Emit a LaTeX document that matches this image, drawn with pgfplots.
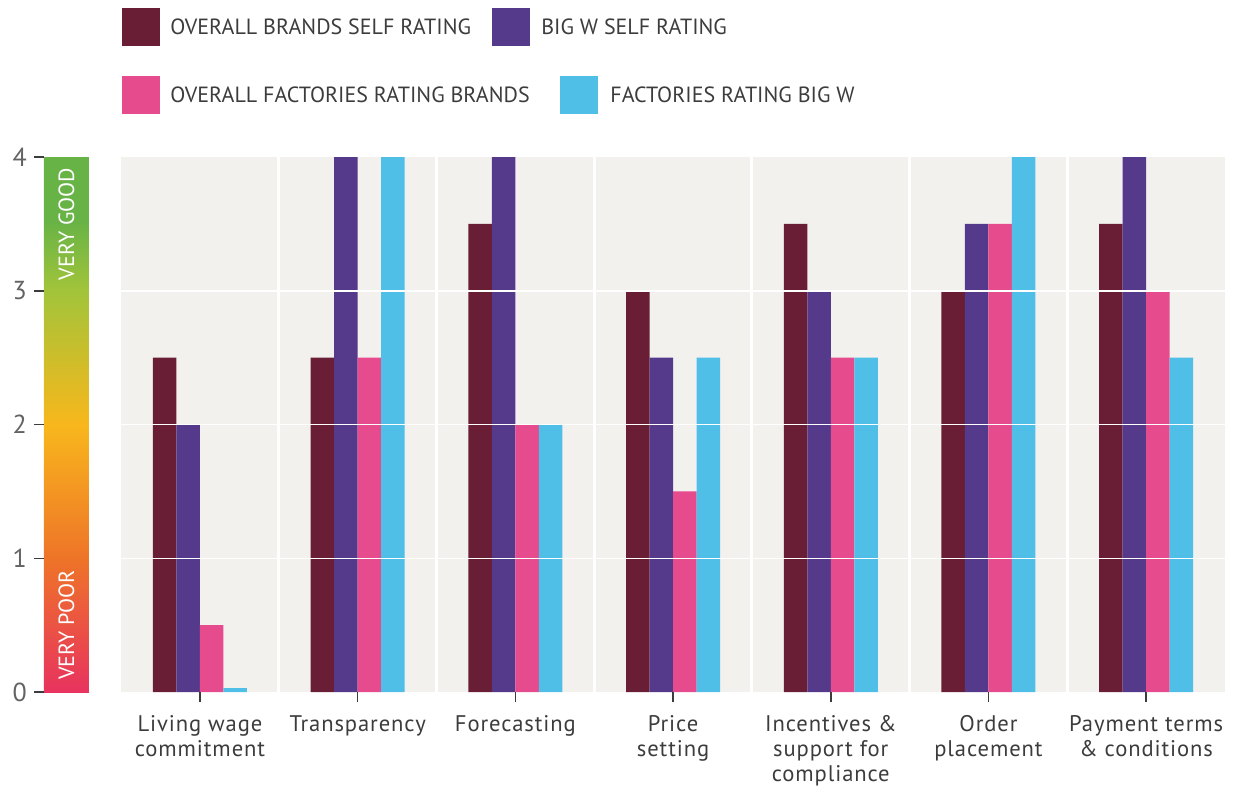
\documentclass[border=0pt]{standalone}
\usepackage{pgfplots}
\usepackage{pgfplotstable}
\pgfplotsset{compat=1.18}
\usepackage{fontspec}
\setmainfont{PT Sans}
\newfontfamily\ticklab[LetterSpace=4]{PT Sans}

\definecolor{cMaroon}{HTML}{6A1E36}
\definecolor{cPurple}{HTML}{553A8C}
\definecolor{cPink}{HTML}{E64B8E}
\definecolor{cCyan}{HTML}{4FBFE8}
\definecolor{panel}{HTML}{F2F1EE}
\definecolor{txt}{HTML}{3C3C3C}
\definecolor{g0}{HTML}{E8335F}
\definecolor{g1}{HTML}{EE7428}
\definecolor{g2}{HTML}{F8B71C}
\definecolor{g3}{HTML}{A2C43A}
\definecolor{g4}{HTML}{68B346}

\pgfdeclareverticalshading{ratingbar}{100bp}{color(0bp)=(g0); color(25bp)=(g0); color(37.5bp)=(g1); color(50bp)=(g2); color(62.5bp)=(g3); color(69bp)=(g4); color(75bp)=(g4); color(100bp)=(g4)}

% x: 0..6 categories; columns = the four series
\pgfplotstableread{
x brands bigw fbrands fbigw
0 2.5 2.0 0.5 0.03
1 2.5 4.0 2.5 4.0
2 3.5 4.0 2.0 2.0
3 3.0 2.5 1.5 2.5
4 3.5 3.0 2.5 2.5
5 3.0 3.5 3.5 4.0
6 3.5 4.0 3.0 2.5
}\ratings

\begin{document}
\begin{tikzpicture}
\begin{axis}[
  set layers,
  scale only axis,
  width=590.5pt, height=267.5pt,
  xmin=-0.99, xmax=6.5, ymin=0, ymax=4,
  ybar=0pt, bar width=11.75pt,
  axis x line*=bottom, axis y line*=left,
  axis line style={draw=none},
  tick align=outside, major tick length=5pt,
  tick style={txt, line width=0.8pt},
  xtick={0,...,6},
  xticklabels={{Living wage\\commitment},Transparency,Forecasting,{Price\\setting},{Incentives \&\\support for\\compliance},{Order\\placement},{Payment terms\\\& conditions}},
  xticklabel style={align=center, font=\ticklab\fontsize{11.3}{12.6}\selectfont, text=txt, yshift=-3pt},
  ytick={0,1,2,3,4},
  yticklabel style={font=\fontsize{13}{13}\selectfont, text=txt!80},
  /pgf/number format/assume math mode=true,
  clip=false,
]
\begin{pgfonlayer}{axis background}
  \fill[panel] (axis cs:-0.5,0) rectangle (axis cs:6.5,4);
  \draw[white, line width=1.5pt] (axis cs:0.5,0) -- (axis cs:0.5,4);
  \draw[white, line width=1.5pt] (axis cs:1.5,0) -- (axis cs:1.5,4);
  \draw[white, line width=1.5pt] (axis cs:2.5,0) -- (axis cs:2.5,4);
  \draw[white, line width=1.5pt] (axis cs:3.5,0) -- (axis cs:3.5,4);
  \draw[white, line width=1.5pt] (axis cs:4.5,0) -- (axis cs:4.5,4);
  \draw[white, line width=1.5pt] (axis cs:5.5,0) -- (axis cs:5.5,4);
  \shade[shading=ratingbar] (axis cs:-0.99,0) rectangle (axis cs:-0.704,4);
\end{pgfonlayer}

\addplot[fill=cMaroon, draw=none] table[x=x, y=brands] {\ratings};
\addplot[fill=cPurple, draw=none] table[x=x, y=bigw] {\ratings};
\addplot[fill=cPink, draw=none] table[x=x, y=fbrands] {\ratings};
\addplot[fill=cCyan, draw=none] table[x=x, y=fbigw] {\ratings};

\begin{pgfonlayer}{axis foreground}
  \draw[white, line width=0.8pt] (axis cs:-0.5,1) -- (axis cs:6.5,1);
  \draw[white, line width=0.8pt] (axis cs:-0.5,2) -- (axis cs:6.5,2);
  \draw[white, line width=0.8pt] (axis cs:-0.5,3) -- (axis cs:6.5,3);
\end{pgfonlayer}

% colour scale labels
\node[rotate=90, text=white, font=\fontsize{11}{11}\selectfont] at (axis cs:-0.847,3.5) {VERY GOOD};
\node[rotate=90, text=white, font=\fontsize{11}{11}\selectfont] at (axis cs:-0.847,0.5) {VERY POOR};

% legend
\fill[cMaroon] (axis cs:-0.495,4.830) rectangle (axis cs:-0.254,5.114);
\node[anchor=west, inner sep=0pt, text=txt, font=\fontsize{11}{11}\selectfont] at (axis cs:-0.19,4.972) {OVERALL BRANDS SELF RATING};
\fill[cPurple] (axis cs:1.852,4.830) rectangle (axis cs:2.093,5.114);
\node[anchor=west, inner sep=0pt, text=txt, font=\fontsize{11}{11}\selectfont] at (axis cs:2.162,4.972) {BIG W SELF RATING};
\fill[cPink] (axis cs:-0.495,4.322) rectangle (axis cs:-0.254,4.606);
\node[anchor=west, inner sep=0pt, text=txt, font=\fontsize{11}{11}\selectfont] at (axis cs:-0.19,4.464) {OVERALL FACTORIES RATING BRANDS};
\fill[cCyan] (axis cs:2.283,4.322) rectangle (axis cs:2.524,4.606);
\node[anchor=west, inner sep=0pt, text=txt, font=\fontsize{11}{11}\selectfont] at (axis cs:2.600,4.464) {FACTORIES RATING BIG W};

\path (axis cs:-1.268,-0.748) rectangle (axis cs:6.576,5.174);
\end{axis}
\end{tikzpicture}
\end{document}
